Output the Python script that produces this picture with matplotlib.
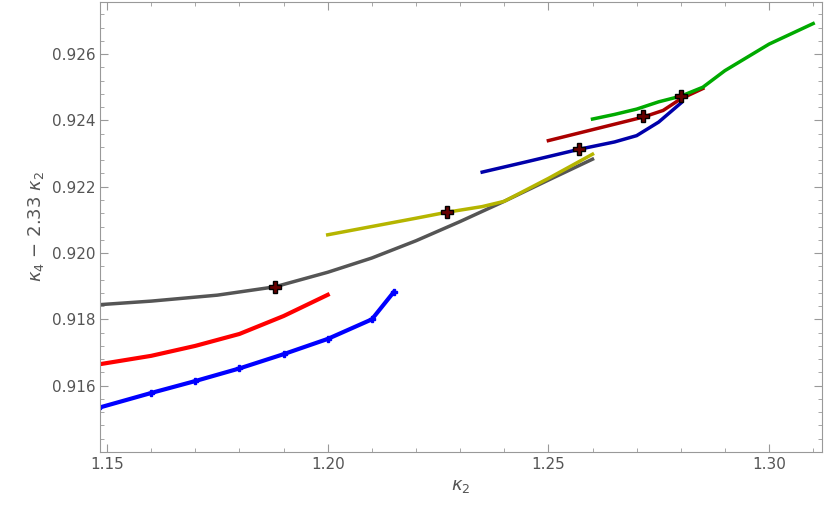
import matplotlib.pyplot as plt

gray_x = [1.148, 1.16, 1.175, 1.188, 1.20, 1.21, 1.22, 1.23, 1.24, 1.25, 1.26]
gray_y = [0.91844, 0.91855, 0.91873, 0.91898, 0.91942, 0.91985, 0.92037, 0.92095, 0.92156, 0.92220, 0.92283]
red_x = [1.148, 1.16, 1.17, 1.18, 1.19, 1.20]
red_y = [0.91664, 0.91690, 0.91720, 0.91756, 0.91810, 0.91874]
blue_x = [1.148, 1.16, 1.17, 1.18, 1.19, 1.20, 1.21, 1.215]
blue_y = [0.91533, 0.91578, 0.91614, 0.91652, 0.91695, 0.91741, 0.91800, 0.91883]
yel_x = [1.20, 1.21, 1.22, 1.227, 1.235, 1.24, 1.25, 1.26]
yel_y = [0.92055, 0.92080, 0.92105, 0.92123, 0.92140, 0.92156, 0.92225, 0.92298]
navy_x = [1.235, 1.245, 1.257, 1.265, 1.27, 1.275, 1.28]
navy_y = [0.92244, 0.92275, 0.92313, 0.92335, 0.92354, 0.92395, 0.92452]
dred_x = [1.25, 1.26, 1.2715, 1.276, 1.28, 1.285]
dred_y = [0.92339, 0.92372, 0.92410, 0.92430, 0.92465, 0.92496]
green_x = [1.26, 1.265, 1.27, 1.275, 1.28, 1.285, 1.29, 1.30, 1.31]
green_y = [0.92404, 0.92418, 0.92434, 0.92456, 0.92473, 0.92500, 0.92550, 0.92630, 0.92692]
mark_x = [1.188, 1.227, 1.257, 1.2715, 1.28]
mark_y = [0.91898, 0.92123, 0.92313, 0.92412, 0.92475]

fig = plt.figure(figsize=(8.3, 5.25), dpi=100)
ax = fig.add_axes([100/830, 73/525, 722/830, 450/525])

ax.plot(gray_x, gray_y, color='#555555', lw=2.5)
ax.plot(red_x, red_y, color='#ff0000', lw=3)
ax.plot(blue_x, blue_y, color='#0000ff', lw=3, marker='P', ms=5, markevery=1)
ax.plot(yel_x, yel_y, color='#b5b500', lw=2.5)
ax.plot(navy_x, navy_y, color='#0000aa', lw=2.5)
ax.plot(dred_x, dred_y, color='#aa0000', lw=2.5)
ax.plot(green_x, green_y, color='#00aa00', lw=2.5)
ax.plot(mark_x, mark_y, ls='none', marker='P', ms=8, mfc='#660000', mec='black', mew=1)

ax.set_xlim(1.1484, 1.3120)
ax.set_ylim(0.91424, 0.92757)
ax.set_xticks([1.15, 1.20, 1.25, 1.30])
ax.set_xticklabels(['1.15', '1.20', '1.25', '1.30'])
ax.set_yticks([0.916, 0.918, 0.920, 0.922, 0.924, 0.926])
ax.set_yticks([0.914 + 0.0004 * i for i in range(34)], minor=True)
ax.set_xticks([1.15 + 0.01 * i for i in range(17)], minor=True)
for s in ax.spines.values():
    s.set_color('#999999')
ax.tick_params(colors='#999999', labelcolor='#555555', labelsize=11, direction='in', length=6)
ax.tick_params(which='minor', direction='in', length=3, colors='#999999')
ax.tick_params(top=True, right=True, which='both')
ax.set_xlabel(r'$\kappa_2$', color='#555555', fontsize=13)
ax.set_ylabel(r'$\kappa_4$ $-$ 2.33 $\kappa_2$', color='#555555', fontsize=13)
fig.savefig('out.png')
